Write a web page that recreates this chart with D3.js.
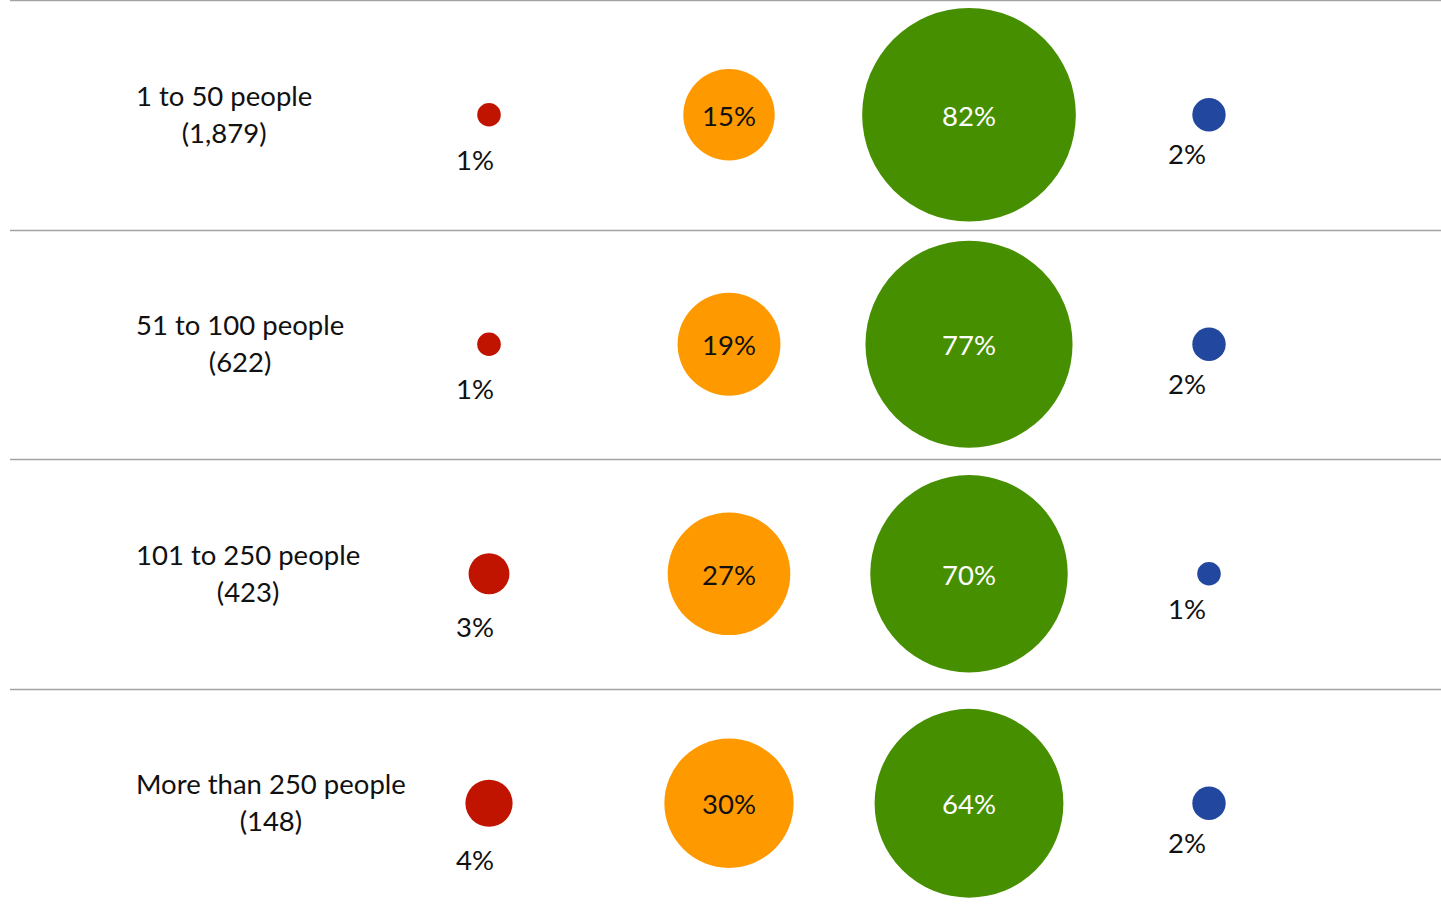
<!DOCTYPE html>
<html>
<head>
<meta charset="utf-8">
<style>
  body { margin: 0; background: #fff; }
  svg { display: block; font-family: Lato, "Open Sans", sans-serif; }
</style>
</head>
<body>
<script src="https://cdn.jsdelivr.net/npm/d3@7/dist/d3.min.js"></script>
<script>
// company size groups and respondent counts
var groups = ["1 to 50 people", "51 to 100 people", "101 to 250 people", "More than 250 people"];
var counts = ["(1,879)", "(622)", "(423)", "(148)"];

// answer columns, left to right
var answers = ["a", "b", "c", "d"];
var colors = ["#c01400", "#ff9900", "#468f00", "#22479e"];

// percentage per group, one array per answer column
var redVals    = [1, 1, 3, 4];
var orangeVals = [15, 19, 27, 30];
var greenVals  = [82, 77, 70, 64];
var blueVals   = [2, 2, 1, 2];
var series = [redVals, orangeVals, greenVals, blueVals];

var width = 1441, height = 912;

var svg = d3.select("body").append("svg")
    .attr("width", width)
    .attr("height", height);

// rows
var y = d3.scaleBand().domain(groups).range([0, 918]);
// columns
var x = d3.scalePoint().domain(answers).range([489, 1209]);
// bubble area proportional to percentage
var r = d3.scaleSqrt().domain([0, 100]).range([0, 118]);

// separator lines between rows
svg.selectAll("line.sep")
    .data(groups)
    .enter().append("line")
    .attr("class", "sep")
    .attr("x1", 10).attr("x2", width)
    .attr("y1", function(d) { return Math.round(y(d)) + 0.5; })
    .attr("y2", function(d) { return Math.round(y(d)) + 0.5; })
    .attr("stroke", "#a3a3a3")
    .attr("stroke-width", 1.5);

// category labels (two lines, second centred under first)
groups.forEach(function(g, i) {
  var cy = y(g) + y.bandwidth() / 2;
  var t1 = svg.append("text")
      .attr("x", 136).attr("y", cy - 9)
      .attr("font-size", 27.5)
      .attr("fill", "#111")
      .text(g);
  var w = t1.node().getComputedTextLength();
  svg.append("text")
      .attr("x", 136 + w / 2).attr("y", cy + 28)
      .attr("text-anchor", "middle")
      .attr("font-size", 27.5)
      .attr("fill", "#111")
      .text(counts[i]);
});

// bubbles
series.forEach(function(vals, j) {
  var col = answers[j];
  vals.forEach(function(v, i) {
    var cx = x(col);
    var cy = y(groups[i]) + y.bandwidth() / 2;
    var rad = r(v);
    svg.append("circle")
        .attr("cx", cx).attr("cy", cy).attr("r", rad)
        .attr("fill", colors[j]);

    var big = rad > 35;
    var tx = big ? cx : (j == 0 ? cx - 14 : cx - 22);
    var ty = big ? cy + 11 : cy + rad + (j == 0 ? 43 : 33);
    svg.append("text")
        .attr("x", tx)
        .attr("y", ty)
        .attr("text-anchor", "middle")
        .attr("font-size", 27.5)
        .attr("fill", big && j == 2 ? "#fff" : "#111")
        .text(v + "%");
  });
});
</script>
</body>
</html>
